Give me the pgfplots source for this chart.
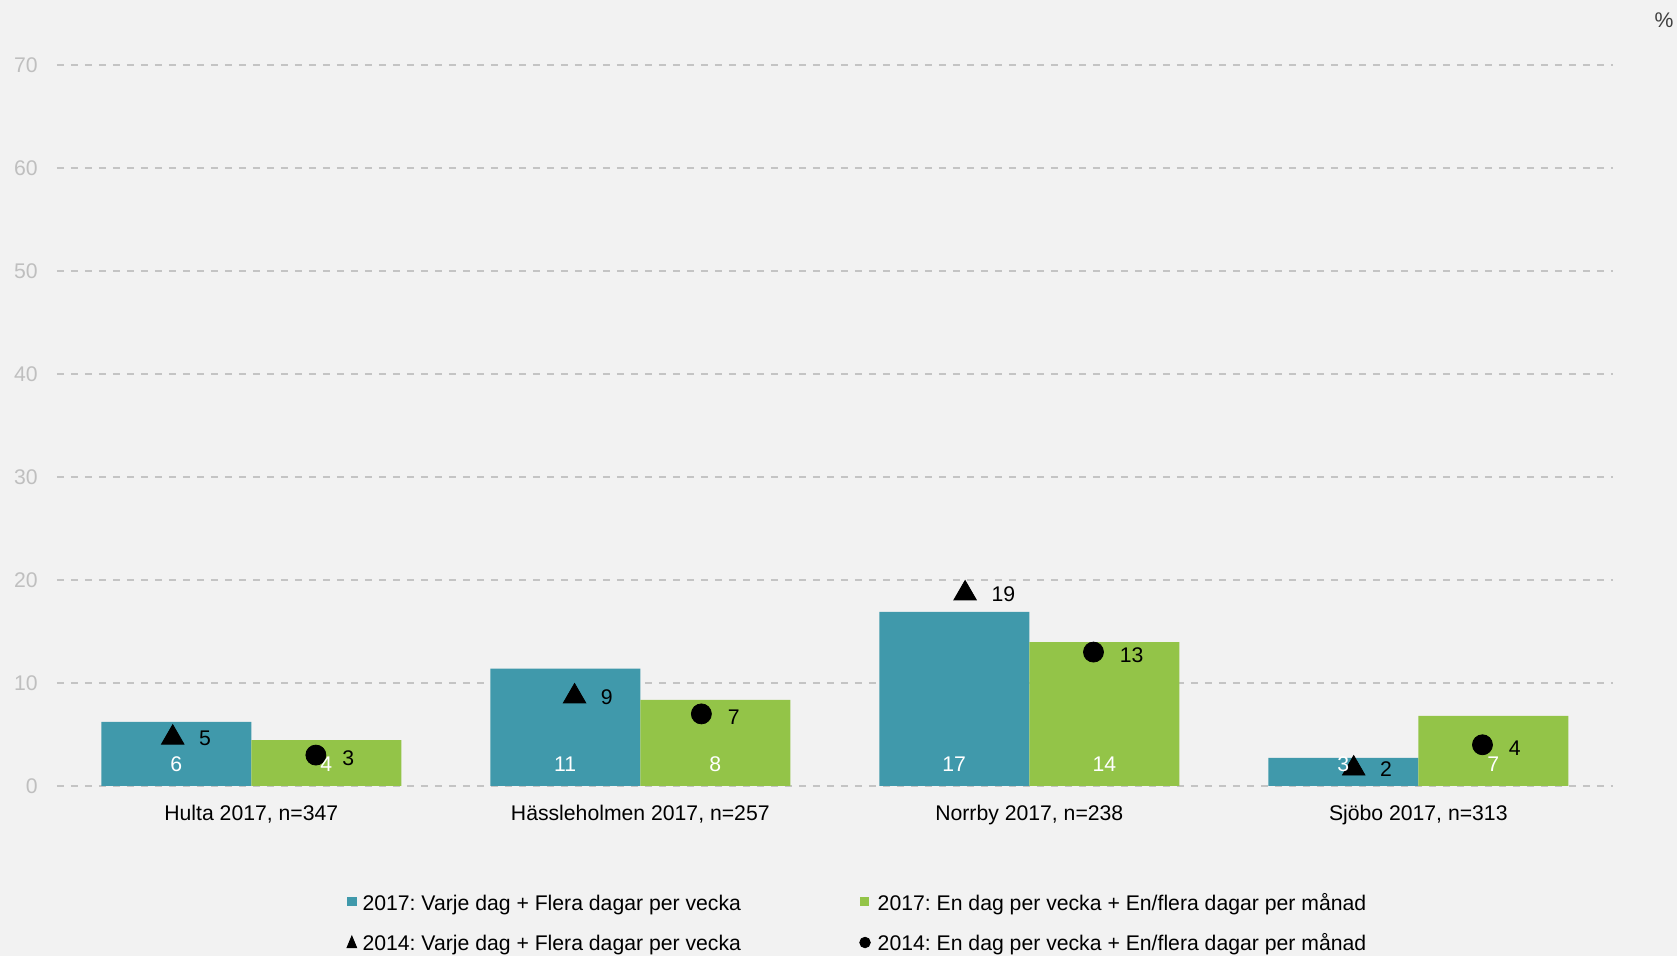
\documentclass[border=0pt]{standalone}
\usepackage{fontspec}
\setmainfont{Liberation Sans}
\usepackage{pgfplots}
\pgfplotsset{compat=1.18}
\definecolor{bgc}{HTML}{F2F2F2}
\definecolor{barblue}{HTML}{4099AB}
\definecolor{bargreen}{HTML}{93C448}
\definecolor{gridc}{HTML}{C4C4C4}
\definecolor{tickc}{HTML}{BFBFBF}
\definecolor{pctc}{HTML}{404040}
\newcommand{\fs}{\fontsize{10.6}{12.7}\selectfont\frenchspacing}
\begin{document}
\frenchspacing
\begin{tikzpicture}
\fill[bgc] (0,0) rectangle (838.5pt,478pt);
\useasboundingbox (0,0) rectangle (838.5pt,478pt);
\node[font=\fs, text=pctc, inner sep=0pt] at (832pt,468pt) {\%};
\begin{axis}[
  at={(28.4pt,85pt)}, anchor=south west,
  scale only axis, width=778pt, height=360.5pt,
  xmin=-0.5, xmax=3.5, ymin=0, ymax=70,
  xtick={0,1,2,3},
  xticklabels={{Hulta 2017, n=347},{Hässleholmen 2017, n=257},{Norrby 2017, n=238},{Sjöbo 2017, n=313}},
  ytick={0,10,...,70},
  ymajorgrids,
  grid style={gridc, dash pattern=on 3.5pt off 3.5pt, line width=1pt},
  axis line style={draw=none},
  major tick length=0pt,
  /pgf/number format/assume math mode=true,
  yticklabel style={text=tickc, font=\fs, xshift=-6pt},
  xticklabel style={font=\fs, text=black, anchor=base, yshift=-17.2pt},
  clip=false,
  legend columns=2,
  legend style={at={(axis description cs:0.1862,-0.1508)}, anchor=north west,
    draw=none, fill=none, inner sep=0pt, outer sep=0pt,
    column sep=0pt, row sep=9.15pt, font=\fs,
    cells={anchor=base west},
    nodes={inner sep=0pt, text height=8pt, text depth=2.5pt}},
]
\addplot[ybar, bar width=75pt, bar shift=-37.5pt, fill=barblue, draw=none,
  legend image code/.code={\fill[barblue] (0pt,2.3pt) rectangle (4.8pt,6.9pt); \path (0pt,0pt) (7.6pt,0pt);}]
  coordinates {(0,6.22) (1,11.4) (2,16.9) (3,2.73)};
\addlegendentry{\makebox[248.4pt][l]{2017: Varje dag + Flera dagar per vecka}}
\addplot[ybar, bar width=75pt, bar shift=37.5pt, fill=bargreen, draw=none,
  legend image code/.code={\fill[bargreen] (0pt,2.3pt) rectangle (4.8pt,6.9pt); \path (0pt,0pt) (8.8pt,0pt);}]
  coordinates {(0,4.46) (1,8.37) (2,13.96) (3,6.8)};
\addlegendentry{2017: En dag per vecka + En/flera dagar per månad}
\addplot[only marks, mark=triangle*, mark size=6.5pt, black, mark options={yshift=-1.6pt},
  nodes near coords, point meta=explicit symbolic,
  every node near coord/.append style={anchor=west, xshift=13pt, yshift=-0.5pt, text=black, font=\fs, inner sep=0pt},
  legend image code/.code={\fill[black] (0pt,1.1pt) -- (4.9pt,1.1pt) -- (2.45pt,7pt) -- cycle; \path (0pt,0pt) (7.6pt,0pt);}]
  coordinates {(-0.202,5)[5] (0.831,9)[9] (1.835,19)[19] (2.834,2)[2]};
\addlegendentry{2014: Varje dag + Flera dagar per vecka}
\addplot[only marks, mark=*, mark size=5pt, black,
  nodes near coords, point meta=explicit symbolic,
  every node near coord/.append style={anchor=west, xshift=13pt, yshift=-1.5pt, text=black, font=\fs, inner sep=0pt},
  legend image code/.code={\fill[black] (2.65pt,3.75pt) circle (2.65pt); \path (0pt,0pt) (8.8pt,0pt);}]
  coordinates {(0.166,3)[3] (1.157,7)[7] (2.165,13)[13] (3.165,4)[4]};
\addlegendentry{2014: En dag per vecka + En/flera dagar per månad}
\addplot[draw=none, forget plot, nodes near coords, point meta=explicit symbolic,
  every node near coord/.append style={anchor=center, yshift=11pt, text=white, font=\fs, inner sep=0pt}]
  coordinates {(-0.193,0)[6] (0.193,0)[4] (0.807,0)[11] (1.193,0)[8] (1.807,0)[17] (2.193,0)[14] (2.807,0)[3] (3.193,0)[7]};
\end{axis}
\end{tikzpicture}
\end{document}
